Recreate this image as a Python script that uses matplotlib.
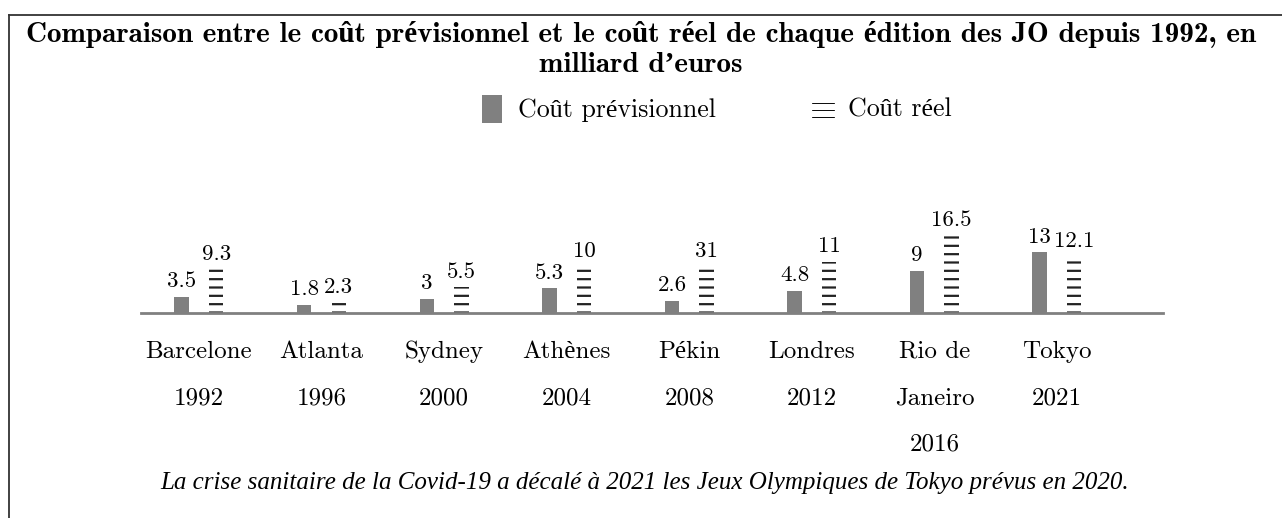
import matplotlib.pyplot as plt
from matplotlib.patches import Rectangle
from matplotlib.lines import Line2D

villes = ['Barcelone\n1992', 'Atlanta\n1996', 'Sydney\n2000', 'Athènes\n2004',
          'Pékin\n2008', 'Londres\n2012', 'Rio de\nJaneiro\n2016', 'Tokyo\n2021']
previsionnel = [3.5, 1.8, 3, 5.3, 2.6, 4.8, 9, 13]
reel = [9.3, 2.3, 5.5, 10, 10, 11, 16.5, 12.1]
# the picture labels the Pekin bar 31 while it is drawn at about 10
reel_etiquettes = ['9.3', '2.3', '5.5', '10', '31', '11', '16.5', '12.1']

plt.rcParams['font.family'] = ['cmr10', 'Liberation Serif']
plt.rcParams['mathtext.fontset'] = 'cm'
plt.rcParams['hatch.linewidth'] = 1.6
plt.rcParams['hatch.color'] = '#222222'

W, H = 1282, 518
fig = plt.figure(figsize=(W / 100, H / 100), dpi=100)

# frame (only top and left visible)
fig.add_artist(Line2D([9 / W, 1], [1 - 15 / H, 1 - 15 / H], color='#333333', lw=1.3))
fig.add_artist(Line2D([9 / W, 9 / W], [0, 1 - 15 / H], color='#333333', lw=1.3))

titre_font = ['cmb10', 'Liberation Serif']
fig.text(0.5, 1 - 34 / H, 'Comparaison entre le coût prévisionnel et le coût réel de chaque édition des JO depuis 1992, en',
         ha='center', va='center', fontsize=21, family=titre_font, fontweight='bold')
fig.text(0.5, 1 - 65 / H, 'milliard d\u2019euros',
         ha='center', va='center', fontsize=21, family=titre_font, fontweight='bold')

# legend
fig.add_artist(Rectangle((482 / W, 1 - 123 / H), 20 / W, 28 / H, transform=fig.transFigure,
                         facecolor='#808080', edgecolor='none'))
fig.text(518 / W, 1 - 110 / H, 'Coût prévisionnel', ha='left', va='center', fontsize=18.6)
fig.text(820 / W, 1 - 109 / H, r'$\equiv$', ha='center', va='center', fontsize=25)
fig.text(848 / W, 1 - 110 / H, 'Coût réel', ha='left', va='center', fontsize=18.6)

ax = fig.add_axes([141 / W, 1 - 313 / H, 1022 / W, 173 / H])
x = list(range(len(villes)))
off = 0.141
w = 0.118
ax.bar([i - off for i in x], previsionnel, width=w, color='#808080')
ax.bar([i + off for i in x], reel, width=w, color='white', hatch='--')

for i in x:
    ax.annotate(str(previsionnel[i]), (i - off, previsionnel[i]), xytext=(0, 11), textcoords='offset points',
                ha='center', va='center', fontsize=16.5)
    ax.annotate(reel_etiquettes[i], (i + off, reel[i]), xytext=(0, 11), textcoords='offset points',
                ha='center', va='center', fontsize=16.5)

ax.set_xlim(-0.473, 7.865)
ax.set_ylim(0, 173 / 4.68)
ax.set_xticks(x)
ax.set_xticklabels(villes, fontsize=18, linespacing=2.4)
ax.tick_params(axis='x', length=0, pad=20)
ax.set_yticks([])
for s in ['top', 'right', 'left']:
    ax.spines[s].set_visible(False)
ax.spines['bottom'].set_color('#808080')
ax.spines['bottom'].set_linewidth(2)

fig.text(645 / W, 1 - 483 / H,
         'La crise sanitaire de la Covid-19 a décalé à 2021 les Jeux Olympiques de Tokyo prévus en 2020.',
         ha='center', va='center', fontsize=18, style='italic', family=['Liberation Serif'])

fig.savefig('out.png', dpi=100)
